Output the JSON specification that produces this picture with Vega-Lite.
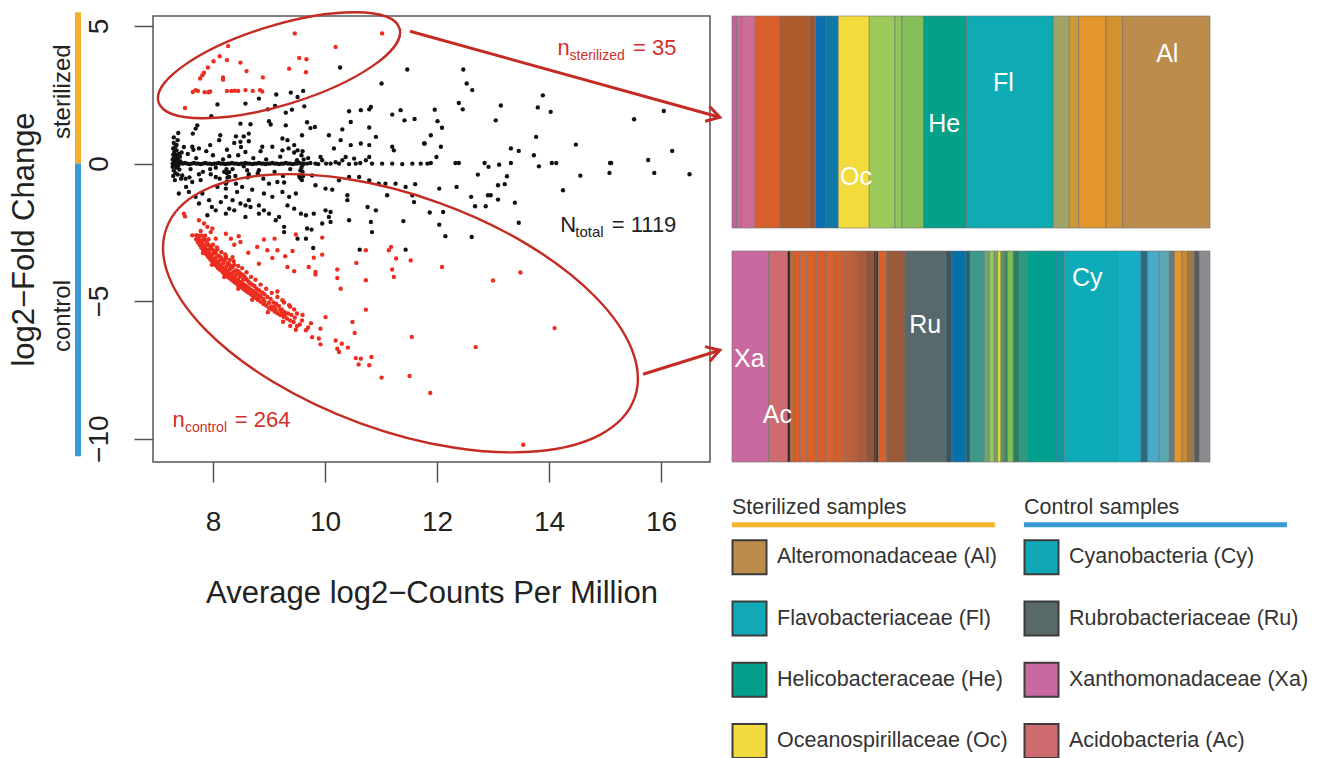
{
"$schema": "https://vega.github.io/schema/vega-lite/v6.json",
"background": "white",
"padding": {"left": 7, "top": 6, "right": 0, "bottom": 0},
"config": {"view": {"stroke": null}, "font": "Liberation Sans"},
"datasets": {
"blk": [
{"x":7.28,"y":0.0},{"x":7.28,"y":0.15},{"x":7.28,"y":-0.12},{"x":7.29,"y":0.32},{"x":7.29,"y":0.55},{"x":7.3,"y":0.75},{"x":7.3,"y":-0.25},{"x":7.31,"y":0.05},{"x":7.31,"y":0.42},{"x":7.32,"y":-0.05},{"x":7.32,"y":0.22},{"x":7.33,"y":0.62},{"x":7.33,"y":-0.35},{"x":7.34,"y":0.1},{"x":7.34,"y":0.3},{"x":7.35,"y":-0.15},{"x":7.35,"y":0.48},{"x":7.36,"y":0.02},{"x":7.36,"y":0.18},{"x":7.37,"y":-0.4},{"x":7.37,"y":0.85},{"x":7.38,"y":0.12},{"x":7.38,"y":-0.08},{"x":7.39,"y":0.35},{"x":7.4,"y":0.0},{"x":7.4,"y":-0.22},{"x":7.41,"y":0.25},{"x":7.42,"y":0.08},{"x":7.43,"y":-0.55},{"x":7.44,"y":0.4},{"x":7.3,"y":0.95},{"x":7.29,"y":-0.45},{"x":7.32,"y":-0.6},{"x":7.35,"y":0.68},{"x":7.31,"y":0.2},
{"x":7.46,"y":0},{"x":7.5,"y":0.02},{"x":7.54,"y":0},{"x":7.58,"y":-0.02},{"x":7.62,"y":0},{"x":7.66,"y":0.02},{"x":7.7,"y":0},{"x":7.74,"y":0},{"x":7.78,"y":-0.02},{"x":7.82,"y":0},{"x":7.86,"y":0.02},{"x":7.9,"y":0},{"x":7.94,"y":0},{"x":7.98,"y":-0.02},{"x":8.02,"y":0},{"x":8.06,"y":0},{"x":8.1,"y":0.02},{"x":8.14,"y":0},{"x":8.18,"y":0},{"x":8.22,"y":-0.02},{"x":8.26,"y":0},{"x":8.3,"y":0},{"x":8.34,"y":0.02},{"x":8.38,"y":0},{"x":8.42,"y":0},{"x":8.46,"y":-0.02},{"x":8.5,"y":0},{"x":8.54,"y":0},{"x":8.58,"y":0.02},{"x":8.62,"y":0},{"x":8.66,"y":0},{"x":8.7,"y":-0.02},{"x":8.74,"y":0},{"x":8.78,"y":0},{"x":8.82,"y":0.02},{"x":8.86,"y":0},{"x":8.9,"y":0},{"x":8.94,"y":-0.02},{"x":8.98,"y":0},{"x":9.02,"y":0},{"x":9.06,"y":0.02},{"x":9.1,"y":0},{"x":9.14,"y":0},{"x":9.18,"y":-0.02},{"x":9.22,"y":0},{"x":9.26,"y":0},{"x":9.3,"y":0.02},{"x":9.34,"y":0},{"x":9.38,"y":0},{"x":9.42,"y":-0.02},{"x":9.46,"y":0},{"x":9.5,"y":0},{"x":9.54,"y":0.02},{"x":9.58,"y":0},{"x":9.62,"y":0},
{"x":9.68,"y":0},{"x":9.74,"y":0.02},{"x":9.83,"y":0},{"x":9.88,"y":-0.02},{"x":9.95,"y":0.12},{"x":10.02,"y":0},{"x":10.1,"y":0},{"x":10.19,"y":0.05},{"x":10.25,"y":0},{"x":10.31,"y":0.12},{"x":10.43,"y":-0.02},{"x":10.55,"y":0},{"x":10.63,"y":0.02},{"x":10.73,"y":0.12},{"x":10.84,"y":0},{"x":11.02,"y":0},{"x":11.2,"y":0},{"x":11.38,"y":-0.02},{"x":11.56,"y":0},{"x":11.71,"y":0},{"x":11.83,"y":0},{"x":11.89,"y":0.02},{"x":12.33,"y":0.02},{"x":12.39,"y":0.02},{"x":12.85,"y":0.02},{"x":13.32,"y":0.02},{"x":14.05,"y":0.02},{"x":14.13,"y":0.02},{"x":15.09,"y":0.02},{"x":15.11,"y":0.02},
{"x":10.27,"y":3.49},{"x":11.47,"y":3.42},{"x":11.01,"y":2.91},{"x":9.61,"y":2.64},{"x":9.51,"y":2.42},{"x":9.39,"y":2.58},{"x":9.13,"y":2.51},{"x":8.82,"y":2.36},{"x":8.58,"y":2.18},{"x":8.08,"y":2.15},{"x":9.11,"y":2.09},{"x":9.63,"y":2.08},{"x":8.98,"y":1.97},{"x":9.41,"y":1.96},{"x":9.3,"y":1.85},{"x":10.43,"y":1.9},{"x":10.64,"y":1.94},{"x":10.79,"y":1.97},{"x":10.82,"y":2.06},{"x":11.35,"y":1.94},{"x":11.2,"y":1.78},{"x":11.42,"y":1.57},{"x":11.6,"y":1.62},{"x":10.46,"y":1.51},{"x":10.31,"y":1.24},{"x":10.79,"y":1.31},{"x":7.97,"y":1.72},{"x":8.49,"y":1.45},{"x":8.67,"y":1.43},{"x":9.0,"y":1.54},{"x":9.03,"y":1.42},{"x":9.3,"y":1.39},{"x":9.68,"y":1.5},{"x":9.74,"y":1.29},{"x":9.82,"y":1.33},{"x":7.72,"y":1.39},{"x":7.69,"y":1.27},{"x":7.38,"y":1.11},{"x":7.64,"y":1.09},{"x":8.13,"y":1.03},{"x":8.41,"y":0.99},{"x":8.55,"y":0.99},{"x":8.64,"y":1.09},{"x":9.24,"y":0.91},{"x":9.33,"y":0.85},{"x":9.59,"y":1.03},{"x":10.07,"y":1.03},{"x":10.28,"y":0.85},{"x":10.91,"y":0.97},{"x":10.64,"y":0.73},{"x":10.46,"y":0.67},{"x":10.79,"y":0.67},{"x":11.2,"y":0.61},{"x":11.77,"y":0.73},{"x":10.16,"y":0.55},{"x":7.95,"y":0.67},{"x":8.11,"y":0.85},{"x":8.38,"y":0.75},{"x":8.49,"y":0.79},{"x":8.64,"y":0.81},{"x":7.63,"y":0.61},{"x":7.75,"y":0.55},{"x":8.88,"y":0.61},{"x":9.06,"y":0.61},{"x":9.45,"y":0.67},{"x":9.51,"y":0.48},{"x":9.24,"y":0.48},{"x":8.58,"y":0.42},{"x":8.29,"y":0.27},{"x":9.92,"y":0.24},{"x":10.37,"y":0.24},{"x":10.52,"y":0.18},{"x":10.79,"y":0.24},{"x":11.23,"y":0.48},
{"x":12.47,"y":3.42},{"x":12.53,"y":2.91},{"x":12.63,"y":2.67},{"x":12.39,"y":2.2},{"x":12.46,"y":1.97},{"x":11.96,"y":1.96},{"x":12.01,"y":1.54},{"x":12.09,"y":1.3},{"x":11.89,"y":1.03},{"x":11.78,"y":0.73},{"x":12.07,"y":0.61},{"x":11.99,"y":0.24},{"x":13.14,"y":2.11},{"x":13.05,"y":1.57},{"x":13.89,"y":2.48},{"x":13.8,"y":2.04},{"x":14.03,"y":1.88},{"x":13.77,"y":0.97},{"x":13.32,"y":0.55},{"x":13.46,"y":0.46},{"x":13.73,"y":0.3},{"x":14.48,"y":0.69},{"x":15.52,"y":1.61},{"x":16.05,"y":1.91},{"x":15.77,"y":0.13},{"x":16.2,"y":0.46},
{"x":12.92,"y":-0.12},{"x":13.11,"y":-0.04},{"x":13.82,"y":-0.1},{"x":12.73,"y":-0.4},{"x":13.25,"y":-0.46},{"x":13.21,"y":-0.75},{"x":13.09,"y":-0.79},{"x":12.35,"y":-0.85},{"x":12.04,"y":-0.91},{"x":12.91,"y":-1.15},{"x":12.96,"y":-1.15},{"x":12.61,"y":-1.21},{"x":13.09,"y":-1.31},{"x":13.39,"y":-1.42},{"x":12.68,"y":-1.55},{"x":12.87,"y":-1.55},{"x":11.87,"y":-1.78},{"x":12.11,"y":-1.76},{"x":12.04,"y":-2.22},{"x":13.46,"y":-2.15},{"x":12.15,"y":-2.64},{"x":12.62,"y":-2.67},{"x":14.25,"y":-0.97},{"x":14.56,"y":-0.44},{"x":15.08,"y":-0.34},{"x":15.88,"y":-0.34},{"x":16.51,"y":-0.39},
{"x":7.45,"y":-0.43},{"x":7.51,"y":-0.55},{"x":7.63,"y":-0.67},{"x":7.75,"y":-0.39},{"x":7.96,"y":-0.39},{"x":8.05,"y":-0.49},{"x":8.29,"y":-0.31},{"x":8.29,"y":-0.49},{"x":8.61,"y":-0.24},{"x":8.64,"y":-0.39},{"x":8.82,"y":-0.24},{"x":9.0,"y":-0.73},{"x":9.15,"y":-0.67},{"x":9.27,"y":-0.69},{"x":9.54,"y":-0.43},{"x":9.57,"y":-0.55},{"x":9.77,"y":-0.43},{"x":9.83,"y":-0.79},{"x":10.01,"y":-0.91},{"x":10.13,"y":-0.95},{"x":10.25,"y":-0.61},{"x":10.43,"y":-0.49},{"x":10.61,"y":-0.49},{"x":10.79,"y":-0.61},{"x":10.96,"y":-0.73},{"x":11.08,"y":-0.73},{"x":11.26,"y":-0.73},{"x":11.44,"y":-0.85},{"x":11.61,"y":-0.75},{"x":11.11,"y":-1.15},{"x":11.56,"y":-1.15},{"x":10.4,"y":-1.15},{"x":10.4,"y":-1.33},{"x":10.76,"y":-1.58},{"x":10.91,"y":-1.7},{"x":7.39,"y":-1.09},{"x":7.57,"y":-1.03},{"x":7.69,"y":-1.21},{"x":7.75,"y":-1.45},{"x":7.9,"y":-1.88},{"x":8.08,"y":-0.85},{"x":8.23,"y":-0.91},{"x":8.14,"y":-1.4},{"x":8.23,"y":-1.21},{"x":8.35,"y":-1.33},{"x":8.43,"y":-1.03},{"x":8.38,"y":-1.7},{"x":8.29,"y":-1.64},{"x":8.23,"y":-1.82},{"x":8.49,"y":-1.45},{"x":8.58,"y":-1.52},{"x":8.64,"y":-1.33},{"x":8.67,"y":-1.58},{"x":8.58,"y":-1.94},{"x":8.82,"y":-1.52},{"x":8.82,"y":-1.82},{"x":8.91,"y":-1.7},{"x":9.0,"y":-1.82},{"x":9.12,"y":-2.06},{"x":9.27,"y":-2.3},{"x":9.27,"y":-2.49},{"x":9.18,"y":-1.94},{"x":9.33,"y":-1.52},{"x":9.48,"y":-1.09},{"x":9.45,"y":-1.64},{"x":9.57,"y":-1.82},{"x":9.68,"y":-2.36},{"x":9.76,"y":-2.4},{"x":9.66,"y":-1.88},{"x":9.8,"y":-1.82},{"x":10.01,"y":-1.7},{"x":10.1,"y":-1.76},{"x":10.07,"y":-1.94},{"x":9.95,"y":-2.18},{"x":10.1,"y":-2.12},{"x":10.43,"y":-2.06},{"x":10.82,"y":-2.12},{"x":10.84,"y":-2.49},{"x":9.51,"y":-2.73},{"x":9.66,"y":-2.73},{"x":9.79,"y":-3.07},{"x":10.62,"y":-3.13},{"x":11.44,"y":-3.13},{"x":11.4,"y":-2.09},{"x":11.59,"y":-1.4},{"x":7.98,"y":-1.58},{"x":8.05,"y":-1.7},{"x":7.93,"y":-1.33},{"x":7.81,"y":-1.09},{"x":8.23,"y":-0.73},{"x":8.41,"y":-0.73},{"x":8.52,"y":-0.85},{"x":8.7,"y":-0.95},{"x":8.91,"y":-1.09},{"x":9.06,"y":-1.21},{"x":9.24,"y":-1.03},{"x":9.36,"y":-1.21},
{"x":7.55,"y":0.35},{"x":7.6,"y":-0.2},{"x":7.7,"y":0.2},{"x":7.82,"y":-0.3},{"x":7.88,"y":0.45},{"x":8.0,"y":0.3},{"x":8.05,"y":-0.15},{"x":8.18,"y":0.15},{"x":8.35,"y":-0.2},{"x":8.45,"y":0.3},{"x":8.55,"y":-0.1},{"x":8.72,"y":0.2},{"x":8.8,"y":-0.35},{"x":8.95,"y":0.15},{"x":9.1,"y":-0.3},{"x":9.2,"y":0.25},{"x":9.38,"y":-0.2},{"x":9.5,"y":0.12},{"x":9.6,"y":-0.3},{"x":9.7,"y":0.2},{"x":7.48,"y":0.6},{"x":7.52,"y":-0.85},{"x":7.65,"y":0.5},{"x":7.78,"y":-0.6},{"x":8.12,"y":-0.55},{"x":8.25,"y":0.5},{"x":8.4,"y":-0.45},{"x":8.62,"y":-0.5},{"x":8.9,"y":-0.55},{"x":9.25,"y":-0.45},{"x":9.45,"y":0.4},{"x":9.55,"y":-0.5},{"x":9.58,"y":-0.15},{"x":9.6,"y":0.45},{"x":9.35,"y":0.55},{"x":8.85,"y":0.45},{"x":8.5,"y":0.6},{"x":8.2,"y":-0.3},{"x":7.95,"y":-0.2},{"x":7.58,"y":-0.5},{"x":9.58,"y":0.3},{"x":9.6,"y":-0.05},{"x":9.62,"y":0.15},{"x":9.56,"y":-0.25},{"x":9.61,"y":-0.45},{"x":9.59,"y":-0.6},{"x":8.24,"y":-0.2},{"x":8.25,"y":-0.35},{"x":8.26,"y":-0.5},{"x":8.25,"y":-0.65}
],
"red": [
{"x":9.46,"y":4.73},{"x":11.02,"y":4.73},{"x":8.27,"y":4.27},{"x":10.19,"y":4.24},{"x":8.12,"y":3.9},{"x":8.01,"y":3.72},{"x":8.25,"y":3.76},{"x":8.49,"y":3.67},{"x":9.54,"y":3.84},{"x":9.67,"y":3.79},{"x":7.91,"y":3.49},{"x":7.84,"y":3.3},{"x":7.81,"y":3.21},{"x":8.6,"y":3.36},{"x":9.36,"y":3.45},{"x":9.66,"y":3.32},{"x":7.77,"y":3.09},{"x":8.18,"y":3.13},{"x":8.18,"y":3.05},{"x":8.89,"y":3.13},{"x":7.64,"y":2.6},{"x":7.69,"y":2.67},{"x":7.73,"y":2.64},{"x":7.85,"y":2.59},{"x":7.92,"y":2.59},{"x":8.25,"y":2.64},{"x":8.33,"y":2.64},{"x":8.39,"y":2.65},{"x":8.58,"y":2.67},{"x":8.71,"y":2.64},{"x":8.84,"y":2.67},{"x":8.88,"y":2.62},{"x":7.5,"y":2.02},{"x":7.95,"y":2.62},{"x":8.45,"y":2.64},
{"x":7.7,"y":-2.75},{"x":7.7,"y":-2.6},{"x":7.73,"y":-2.85},{"x":7.73,"y":-2.68},{"x":7.76,"y":-2.95},{"x":7.76,"y":-2.78},{"x":7.76,"y":-2.62},{"x":7.79,"y":-3.05},{"x":7.79,"y":-2.88},{"x":7.82,"y":-3.12},{"x":7.82,"y":-2.95},{"x":7.82,"y":-2.8},{"x":7.85,"y":-3.2},{"x":7.85,"y":-3.05},{"x":7.88,"y":-3.3},{"x":7.88,"y":-3.12},{"x":7.88,"y":-2.95},{"x":7.91,"y":-3.38},{"x":7.91,"y":-3.2},{"x":7.94,"y":-3.45},{"x":7.94,"y":-3.28},{"x":7.94,"y":-3.12},{"x":7.97,"y":-3.52},{"x":7.97,"y":-3.35},{"x":8.0,"y":-3.6},{"x":8.0,"y":-3.45},{"x":8.0,"y":-3.28},{"x":8.03,"y":-3.66},{"x":8.03,"y":-3.5},{"x":8.06,"y":-3.72},{"x":8.06,"y":-3.56},{"x":8.06,"y":-3.4},{"x":8.09,"y":-3.8},{"x":8.09,"y":-3.62},{"x":8.12,"y":-3.85},{"x":8.12,"y":-3.68},{"x":8.12,"y":-3.52},{"x":8.15,"y":-3.9},{"x":8.15,"y":-3.75},{"x":8.18,"y":-3.96},{"x":8.18,"y":-3.8},{"x":8.18,"y":-3.63},{"x":8.21,"y":-4.02},{"x":8.21,"y":-3.85},{"x":8.24,"y":-4.06},{"x":8.24,"y":-3.9},{"x":8.24,"y":-3.74},{"x":8.27,"y":-4.12},{"x":8.27,"y":-3.95},{"x":8.3,"y":-4.17},{"x":8.3,"y":-4.0},{"x":8.3,"y":-3.84},{"x":8.33,"y":-4.22},{"x":8.33,"y":-4.05},{"x":8.36,"y":-4.27},{"x":8.36,"y":-4.1},{"x":8.36,"y":-3.95},{"x":8.39,"y":-4.32},{"x":8.39,"y":-4.15},{"x":8.42,"y":-4.36},{"x":8.42,"y":-4.2},{"x":8.42,"y":-4.03},{"x":8.45,"y":-4.42},{"x":8.45,"y":-4.25},{"x":8.48,"y":-4.46},{"x":8.48,"y":-4.3},{"x":8.48,"y":-4.12},{"x":8.51,"y":-4.5},{"x":8.51,"y":-4.33},{"x":8.54,"y":-4.55},{"x":8.54,"y":-4.38},{"x":8.54,"y":-4.22},{"x":8.57,"y":-4.6},{"x":8.57,"y":-4.42},{"x":8.6,"y":-4.65},{"x":8.6,"y":-4.46},{"x":8.64,"y":-4.7},{"x":8.64,"y":-4.52},{"x":8.68,"y":-4.76},{"x":8.68,"y":-4.58},{"x":8.72,"y":-4.82},{"x":8.72,"y":-4.64},{"x":8.76,"y":-4.88},{"x":8.76,"y":-4.7},{"x":8.8,"y":-4.95},{"x":8.8,"y":-4.76},{"x":8.85,"y":-5.02},{"x":8.85,"y":-4.84},{"x":8.9,"y":-5.1},{"x":8.9,"y":-4.92},{"x":8.95,"y":-5.16},{"x":9.0,"y":-5.25},{"x":9.0,"y":-5.06},{"x":9.05,"y":-5.3},{"x":9.1,"y":-5.38},{"x":9.1,"y":-5.2},{"x":9.15,"y":-5.44},{"x":9.2,"y":-5.5},{"x":9.2,"y":-5.32},{"x":9.26,"y":-5.57},{"x":9.32,"y":-5.63},{"x":9.38,"y":-5.7},{"x":9.44,"y":-5.76},
{"x":7.8,"y":-2.62},{"x":7.84,"y":-2.72},{"x":7.87,"y":-2.8},{"x":7.9,"y":-2.9},{"x":7.93,"y":-2.98},{"x":7.96,"y":-3.02},{"x":7.99,"y":-3.12},{"x":8.02,"y":-3.18},{"x":8.05,"y":-3.25},{"x":8.08,"y":-3.12},{"x":8.1,"y":-3.35},{"x":8.14,"y":-3.4},{"x":8.17,"y":-3.48},{"x":8.2,"y":-3.52},{"x":8.23,"y":-3.45},{"x":8.26,"y":-3.62},{"x":8.29,"y":-3.66},{"x":8.32,"y":-3.72},{"x":8.35,"y":-3.78},{"x":8.38,"y":-3.68},{"x":8.41,"y":-3.88},{"x":8.44,"y":-3.9},{"x":8.47,"y":-3.96},{"x":8.5,"y":-4.02},{"x":8.53,"y":-4.05},{"x":8.56,"y":-4.1},{"x":8.6,"y":-4.2},{"x":8.63,"y":-4.28},{"x":8.66,"y":-4.35},{"x":8.7,"y":-4.4},{"x":8.74,"y":-4.45},{"x":8.78,"y":-4.55},{"x":8.82,"y":-4.6},{"x":8.87,"y":-4.68},{"x":8.92,"y":-4.75},{"x":8.97,"y":-4.85},{"x":9.03,"y":-4.92},{"x":9.08,"y":-5.05},{"x":9.13,"y":-5.1},{"x":9.18,"y":-5.18},{"x":9.23,"y":-5.3},{"x":9.28,"y":-5.4},{"x":9.34,"y":-5.45},{"x":9.4,"y":-5.5},
{"x":7.95,"y":-3.4},{"x":8.04,"y":-3.55},{"x":8.14,"y":-3.78},{"x":8.22,"y":-3.93},{"x":8.32,"y":-4.1},{"x":8.4,"y":-4.25},{"x":8.5,"y":-4.4},{"x":8.58,"y":-4.52},{"x":8.66,"y":-4.66},{"x":8.74,"y":-4.78},{"x":8.82,"y":-4.88},{"x":8.92,"y":-5.02},{"x":9.04,"y":-5.2},{"x":9.12,"y":-5.3},{"x":9.22,"y":-5.45},{"x":9.28,"y":-5.5},
{"x":7.78,"y":-2.45},{"x":7.86,"y":-2.62},{"x":7.92,"y":-2.75},{"x":8.0,"y":-2.95},{"x":8.07,"y":-3.05},{"x":8.15,"y":-3.22},{"x":8.22,"y":-3.3},{"x":8.3,"y":-3.5},{"x":8.37,"y":-3.55},{"x":8.45,"y":-3.72},{"x":8.52,"y":-3.8},{"x":8.6,"y":-3.95},{"x":8.68,"y":-4.12},{"x":8.76,"y":-4.22},{"x":8.85,"y":-4.4},{"x":8.95,"y":-4.55},{"x":9.05,"y":-4.7},{"x":9.15,"y":-4.65},{"x":9.27,"y":-5.05},{"x":9.38,"y":-5.2},{"x":9.46,"y":-5.6},{"x":9.5,"y":-5.9},{"x":9.38,"y":-5.9},{"x":9.25,"y":-5.75},{"x":8.98,"y":-5.4},{"x":8.7,"y":-4.95},{"x":8.45,"y":-4.55},{"x":8.2,"y":-4.12},{"x":7.98,"y":-3.68},{"x":7.82,"y":-3.25},
{"x":7.48,"y":-1.82},{"x":7.5,"y":-1.92},{"x":7.75,"y":-2.06},{"x":7.84,"y":-2.18},{"x":7.63,"y":-2.61},{"x":7.9,"y":-2.3},{"x":7.99,"y":-2.36},{"x":7.96,"y":-2.49},{"x":8.05,"y":-2.73},{"x":8.23,"y":-2.55},{"x":8.32,"y":-2.73},{"x":8.38,"y":-2.95},{"x":8.46,"y":-2.64},{"x":8.49,"y":-2.85},{"x":8.63,"y":-3.24},{"x":8.35,"y":-3.4},{"x":8.23,"y":-3.37},{"x":8.79,"y":-3.03},{"x":8.91,"y":-2.76},{"x":8.97,"y":-3.15},{"x":9.1,"y":-2.73},{"x":9.15,"y":-3.15},{"x":9.06,"y":-3.43},{"x":8.82,"y":-3.64},{"x":9.29,"y":-3.37},{"x":9.42,"y":-3.18},{"x":9.48,"y":-2.58},{"x":9.33,"y":-3.76},{"x":9.45,"y":-3.91},{"x":9.71,"y":-3.76},{"x":9.8,"y":-3.42},{"x":9.95,"y":-2.69},{"x":9.95,"y":-3.31},{"x":9.83,"y":-3.94},{"x":9.83,"y":-4.03},{"x":10.22,"y":-3.85},{"x":10.22,"y":-4.16},{"x":10.28,"y":-4.55},{"x":10.56,"y":-3.61},{"x":10.73,"y":-3.15},{"x":10.73,"y":-4.24},{"x":11.14,"y":-3.15},{"x":11.18,"y":-3.03},{"x":11.27,"y":-3.45},{"x":11.53,"y":-3.52},{"x":11.2,"y":-3.85},{"x":11.23,"y":-4.12},{"x":10.73,"y":-5.31},
{"x":9.45,"y":-5.3},{"x":9.59,"y":-5.7},{"x":9.48,"y":-6.04},{"x":9.66,"y":-6.06},{"x":9.7,"y":-5.96},{"x":9.77,"y":-6.31},{"x":9.92,"y":-6.0},{"x":9.89,"y":-6.36},{"x":9.92,"y":-6.57},{"x":10.01,"y":-5.58},{"x":10.19,"y":-6.43},{"x":10.22,"y":-6.73},{"x":10.25,"y":-6.85},{"x":10.3,"y":-6.55},{"x":10.41,"y":-6.69},{"x":10.49,"y":-5.76},{"x":10.53,"y":-6.16},{"x":10.55,"y":-7.07},{"x":10.64,"y":-7.09},{"x":10.6,"y":-7.3},{"x":10.79,"y":-7.33},{"x":10.83,"y":-7.03},{"x":11.01,"y":-7.78},{"x":11.51,"y":-7.72},{"x":11.55,"y":-6.3},{"x":11.88,"y":-8.34},{"x":12.09,"y":-3.76},{"x":13.0,"y":-4.25},{"x":13.49,"y":-3.96},{"x":14.1,"y":-5.98},{"x":12.69,"y":-6.67},{"x":13.54,"y":-10.22},
{"x":9.36,"y":-5.15},{"x":9.24,"y":-4.97},{"x":9.15,"y":-4.85},{"x":8.88,"y":-4.7},{"x":9.5,"y":-5.45},{"x":9.6,"y":-5.5},{"x":9.55,"y":-5.85},{"x":9.75,"y":-5.8}
],
"ann": [
{"t":"n","x":14.15,"y":3.94,"k":"rm"},{"t":"sterilized","x":14.366,"y":3.78,"k":"rs"},{"t":"= 35","x":15.5,"y":3.94,"k":"rm"},
{"t":"n","x":7.277,"y":-9.59,"k":"rm"},{"t":"control","x":7.5,"y":-9.76,"k":"rs"},{"t":"= 264","x":8.39,"y":-9.59,"k":"rm"},
{"t":"N","x":14.2,"y":-2.49,"k":"bm"},{"t":"total","x":14.47,"y":-2.67,"k":"bs"},{"t":"= 1119","x":15.12,"y":-2.49,"k":"bm"}
],
"seg": [
{"bar":"s","i":1,"id":"s01","w":4.6},{"bar":"s","i":2,"id":"s02","w":5.0},{"bar":"s","i":3,"id":"s03","w":13.7},{"bar":"s","i":4,"id":"s04","w":24.7},{"bar":"s","i":5,"id":"s05","w":29.3},{"bar":"s","i":6,"id":"s06","w":6.0},{"bar":"s","i":7,"id":"s07","w":10.7},{"bar":"s","i":8,"id":"s08","w":12.3},{"bar":"s","i":9,"id":"s09","w":31.0},{"bar":"s","i":10,"id":"s10","w":25.7},{"bar":"s","i":11,"id":"s11","w":7.0},{"bar":"s","i":12,"id":"s12","w":21.6},{"bar":"s","i":13,"id":"s13","w":43.0},{"bar":"s","i":14,"id":"s14","w":86.7},{"bar":"s","i":15,"id":"s15","w":16.0},{"bar":"s","i":16,"id":"s16","w":9.3},{"bar":"s","i":17,"id":"s17","w":27.4},{"bar":"s","i":18,"id":"s18","w":16.6},{"bar":"s","i":19,"id":"s19","w":87.4},
{"bar":"c","i":1,"id":"c01","w":36.6},{"bar":"c","i":2,"id":"c02","w":19.0},{"bar":"c","i":3,"id":"c03","w":2.7},{"bar":"c","i":4,"id":"c04","w":5.0},{"bar":"c","i":5,"id":"c05","w":5.0},{"bar":"c","i":6,"id":"c06","w":6.0},{"bar":"c","i":7,"id":"c07","w":10.0},{"bar":"c","i":8,"id":"c08","w":10.0},{"bar":"c","i":9,"id":"c09","w":9.0},{"bar":"c","i":10,"id":"c10","w":9.0},{"bar":"c","i":11,"id":"c11","w":7.0},{"bar":"c","i":12,"id":"c12","w":6.0},{"bar":"c","i":13,"id":"c13","w":8.0},{"bar":"c","i":14,"id":"c14","w":8.0},{"bar":"c","i":15,"id":"c15","w":2.7},{"bar":"c","i":16,"id":"c16","w":2.3},{"bar":"c","i":17,"id":"c17","w":8.3},{"bar":"c","i":18,"id":"c18","w":18.4},{"bar":"c","i":19,"id":"c19","w":41.0},{"bar":"c","i":20,"id":"c20","w":6.0},{"bar":"c","i":21,"id":"c21","w":14.0},{"bar":"c","i":22,"id":"c22","w":4.0},{"bar":"c","i":23,"id":"c23","w":14.3},{"bar":"c","i":24,"id":"c24","w":5.0},{"bar":"c","i":25,"id":"c25","w":5.0},{"bar":"c","i":26,"id":"c26","w":3.3},{"bar":"c","i":27,"id":"c27","w":3.4},{"bar":"c","i":28,"id":"c28","w":3.3},{"bar":"c","i":29,"id":"c29","w":3.3},{"bar":"c","i":30,"id":"c30","w":5.7},{"bar":"c","i":31,"id":"c31","w":6.0},{"bar":"c","i":32,"id":"c32","w":8.3},{"bar":"c","i":33,"id":"c33","w":28.4},{"bar":"c","i":34,"id":"c34","w":8.3},{"bar":"c","i":35,"id":"c35","w":53.3},{"bar":"c","i":36,"id":"c36","w":23.4},{"bar":"c","i":37,"id":"c37","w":6.6},{"bar":"c","i":38,"id":"c38","w":11.7},{"bar":"c","i":39,"id":"c39","w":10.0},{"bar":"c","i":40,"id":"c40","w":5.0},{"bar":"c","i":41,"id":"c41","w":7.7},{"bar":"c","i":42,"id":"c42","w":5.6},{"bar":"c","i":43,"id":"c43","w":6.7},{"bar":"c","i":44,"id":"c44","w":5.0},{"bar":"c","i":45,"id":"c45","w":10.7}
],
"legend": [
{"col":"Sterilized samples","row":1,"key":"Al","name":"Alteromonadaceae (Al)"},
{"col":"Sterilized samples","row":2,"key":"Fl","name":"Flavobacteriaceae (Fl)"},
{"col":"Sterilized samples","row":3,"key":"He","name":"Helicobacteraceae (He)"},
{"col":"Sterilized samples","row":4,"key":"Oc","name":"Oceanospirillaceae (Oc)"},
{"col":"Control samples","row":1,"key":"Cy","name":"Cyanobacteria (Cy)"},
{"col":"Control samples","row":2,"key":"Ru","name":"Rubrobacteriaceae (Ru)"},
{"col":"Control samples","row":3,"key":"Xa","name":"Xanthomonadaceae (Xa)"},
{"col":"Control samples","row":4,"key":"Ac","name":"Acidobacteria (Ac)"}
]
},
"bounds": "flush",
"spacing": 22,
"resolve": {"scale": {"color": "independent"}},
"hconcat": [
{
"width": 557, "height": 446,
"view": {"stroke": "#555", "strokeWidth": 1.5},
"encoding": {
"x": {"field": "x", "type": "quantitative", "scale": {"domain": [6.929, 16.875], "nice": false, "zero": false},
"axis": {"values": [8, 10, 12, 14, 16], "domain": false, "grid": false, "tickSize": 20, "tickColor": "#555", "tickWidth": 1.5, "labelFontSize": 28, "labelColor": "#222", "labelPadding": 26, "labelFlush": false, "labelOverlap": false, "title": "Average log2−Counts Per Million", "titleFontSize": 31, "titleFontWeight": "normal", "titleColor": "#222", "titlePadding": 42}},
"y": {"field": "y", "type": "quantitative", "scale": {"domain": [-10.847, 5.363], "nice": false, "zero": false},
"axis": {"values": [-10, -5, 0, 5], "domain": false, "grid": false, "tickSize": 19, "tickColor": "#555", "tickWidth": 1.5, "labelFontSize": 28, "labelColor": "#222", "labelPadding": 21, "labelAngle": 270, "labelAlign": "center", "labelBaseline": "bottom", "labelFlush": false, "labelOverlap": false, "title": "log2−Fold Change", "titleFontSize": 31, "titleFontWeight": "normal", "titleColor": "#222", "titlePadding": 45}}
},
"layer": [
{"data": {"name": "blk"}, "mark": {"type": "circle", "size": 19, "color": "#111", "opacity": 1}},
{"data": {"name": "red"}, "mark": {"type": "circle", "size": 19, "color": "#ec2d1f", "opacity": 1}},
{"data": {"values": [{"x": 9.179, "y": 3.573}]}, "mark": {"type": "point", "shape": "M -1 0 C -1 -0.1745 -0.5523 -0.316 0 -0.316 C 0.5523 -0.316 1 -0.1745 1 0 C 1 0.1745 0.5523 0.316 0 0.316 C -0.5523 0.316 -1 0.1745 -1 0 Z", "size": 63504, "angle": 343, "filled": false, "color": "#c42b23", "strokeWidth": 2.4, "opacity": 1}},
{"data": {"values": [{"x": 11.348, "y": -5.442}]}, "mark": {"type": "point", "shape": "M -1 0 C -1 -0.2596 -0.5523 -0.47 0 -0.47 C 0.5523 -0.47 1 -0.2596 1 0 C 1 0.2596 0.5523 0.47 0 0.47 C -0.5523 0.47 -1 0.2596 -1 0 Z", "size": 248004, "angle": 20, "filled": false, "color": "#c42b23", "strokeWidth": 2.4, "opacity": 1}},
{"data": {"values": [{"x": 11.518, "y": 4.809, "x2": 17.05, "y2": 1.683}, {"x": 15.679, "y": -7.659, "x2": 17.05, "y2": -6.785}]}, "mark": {"type": "rule", "color": "#c42b23", "strokeWidth": 3}, "encoding": {"x2": {"field": "x2"}, "y2": {"field": "y2"}}},
{"data": {"values": [{"x": 17.05, "y": 1.683}]}, "mark": {"type": "point", "shape": "M -1 -0.6 L 0 0 L -1 0.6", "size": 676, "angle": 15.5, "filled": false, "color": "#c42b23", "strokeWidth": 3, "opacity": 1}},
{"data": {"values": [{"x": 17.05, "y": -6.785}]}, "mark": {"type": "point", "shape": "M -1 -0.6 L 0 0 L -1 0.6", "size": 676, "angle": 342.7, "filled": false, "color": "#c42b23", "strokeWidth": 3, "opacity": 1}},
{"data": {"values": [{"x": 5.59, "y": 5.5, "y2": 0}]}, "mark": {"type": "rule", "color": "#f5b12e", "strokeWidth": 6}, "encoding": {"y2": {"field": "y2"}}},
{"data": {"values": [{"x": 5.59, "y": 0, "y2": -10.64}]}, "mark": {"type": "rule", "color": "#3a9ad6", "strokeWidth": 6}, "encoding": {"y2": {"field": "y2"}}},
{"data": {"values": [{"x": 5.32, "y": 2.61, "t": "sterilized"}, {"x": 5.32, "y": -5.54, "t": "control"}]}, "mark": {"type": "text", "angle": 270, "fontSize": 24, "color": "#222", "align": "center", "baseline": "middle"}, "encoding": {"text": {"field": "t"}}},
{"data": {"name": "ann"}, "transform": [{"filter": "datum.k == 'rm'"}], "mark": {"type": "text", "align": "left", "baseline": "alphabetic", "fontSize": 22, "color": "#d1312a"}, "encoding": {"text": {"field": "t"}}},
{"data": {"name": "ann"}, "transform": [{"filter": "datum.k == 'rs'"}], "mark": {"type": "text", "align": "left", "baseline": "alphabetic", "fontSize": 14, "color": "#d1312a"}, "encoding": {"text": {"field": "t"}}},
{"data": {"name": "ann"}, "transform": [{"filter": "datum.k == 'bm'"}], "mark": {"type": "text", "align": "left", "baseline": "alphabetic", "fontSize": 22, "color": "#222"}, "encoding": {"text": {"field": "t"}}},
{"data": {"name": "ann"}, "transform": [{"filter": "datum.k == 'bs'"}], "mark": {"type": "text", "align": "left", "baseline": "alphabetic", "fontSize": 15, "color": "#222"}, "encoding": {"text": {"field": "t"}}}
]
},
{
"vconcat": [
{
"width": 478, "height": 212,
"layer": [
{"data": {"name": "seg"}, "transform": [{"filter": "datum.bar == 's'"}], "mark": {"type": "bar", "stroke": "#6e6e6e", "strokeWidth": 0.6},
"encoding": {
"x": {"field": "w", "type": "quantitative", "stack": "zero", "scale": {"domain": [0, 478], "nice": false}, "axis": null},
"y": {"field": "bar", "type": "nominal", "scale": {"paddingInner": 0, "paddingOuter": 0}, "axis": null},
"order": {"field": "i", "type": "quantitative"},
"color": {"field": "id", "type": "nominal", "legend": null, "scale": {
"domain": ["s01","s02","s03","s04","s05","s06","s07","s08","s09","s10","s11","s12","s13","s14","s15","s16","s17","s18","s19"],
"range": ["#c2619b","#c8689a","#cd6c96","#d9602c","#ad5b2c","#99552f","#0b6fae","#0e78a6","#f1db3d","#9dca5c","#92c45e","#86bf59","#06a08a","#0eabb5","#a3a367","#c9993a","#e2962c","#d3912f","#bb8c4c"]}}
}},
{"data": {"values": [{"lab": "Oc", "x": 124, "y": 0.242}, {"lab": "He", "x": 212.3, "y": 0.491}, {"lab": "Fl", "x": 271.3, "y": 0.684}, {"lab": "Al", "x": 435.3, "y": 0.821}]},
"mark": {"type": "text", "color": "white", "fontSize": 25, "align": "center", "baseline": "middle"},
"encoding": {"x": {"field": "x", "type": "quantitative", "scale": {"domain": [0, 478], "nice": false}, "axis": null}, "y": {"field": "y", "type": "quantitative", "scale": {"domain": [0, 1]}, "axis": null}, "text": {"field": "lab"}}}
],
"resolve": {"scale": {"y": "independent"}}
},
{
"width": 478, "height": 211,
"layer": [
{"data": {"name": "seg"}, "transform": [{"filter": "datum.bar == 'c'"}], "mark": {"type": "bar", "stroke": "#6e6e6e", "strokeWidth": 0.6},
"encoding": {
"x": {"field": "w", "type": "quantitative", "stack": "zero", "scale": {"domain": [0, 478], "nice": false}, "axis": null},
"y": {"field": "bar", "type": "nominal", "scale": {"paddingInner": 0, "paddingOuter": 0}, "axis": null},
"order": {"field": "i", "type": "quantitative"},
"color": {"field": "id", "type": "nominal", "legend": null, "scale": {
"domain": ["c01","c02","c03","c04","c05","c06","c07","c08","c09","c10","c11","c12","c13","c14","c15","c16","c17","c18","c19","c20","c21","c22","c23","c24","c25","c26","c27","c28","c29","c30","c31","c32","c33","c34","c35","c36","c37","c38","c39","c40","c41","c42","c43","c44","c45"],
"range": ["#c86aa0","#cd6b70","#2e2422","#d4602a","#d95f2b","#dc6330","#d95f2b","#d45d2b","#da612d","#cf602f","#c65f36","#b85d3a","#a95b3c","#935539","#5a3526","#3e2a1e","#d95f2b","#9a5b3a","#57696a","#3a5560","#0670a8","#1d6272","#3d9a8a","#6aa872","#9cc260","#6fa85e","#e4da3e","#5c9a62","#3b8a62","#82c052","#2c8062","#2f9a82","#02a08f","#0b9aa2","#0dabb8","#14aec6","#2b6c80","#4aaac8","#5aa8b2","#6a7a78","#e1962e","#c98a38","#9b7a48","#5a5a5c","#8b8b90"]}}
}},
{"data": {"values": [{"lab": "Xa", "x": 17.3, "y": 0.488}, {"lab": "Ac", "x": 45.3, "y": 0.223}, {"lab": "Ru", "x": 193.3, "y": 0.649}, {"lab": "Cy", "x": 355.3, "y": 0.872}]},
"mark": {"type": "text", "color": "white", "fontSize": 25, "align": "center", "baseline": "middle"},
"encoding": {"x": {"field": "x", "type": "quantitative", "scale": {"domain": [0, 478], "nice": false}, "axis": null}, "y": {"field": "y", "type": "quantitative", "scale": {"domain": [0, 1]}, "axis": null}, "text": {"field": "lab"}}}
],
"resolve": {"scale": {"y": "independent"}}
},
{
"width": 554.8, "height": 265,
"encoding": {
"y": {"field": "row", "type": "quantitative", "scale": {"domain": [-0.1814, 4.1487], "reverse": true, "nice": false, "zero": false}, "axis": null}
},
"layer": [
{"data": {"values": [{"col": "Sterilized samples", "row": 0.47}]}, "mark": {"type": "tick", "orient": "horizontal", "size": 263, "thickness": 5, "color": "#f7b52c", "opacity": 1},
"encoding": {"x": {"field": "col", "type": "nominal", "scale": {"domain": ["Sterilized samples", "Control samples"], "paddingInner": 0.1, "paddingOuter": 0}, "axis": null}}},
{"data": {"values": [{"col": "Control samples", "row": 0.47}]}, "mark": {"type": "tick", "orient": "horizontal", "size": 263, "thickness": 5, "color": "#3a9ad6", "opacity": 1},
"encoding": {"x": {"field": "col", "type": "nominal", "scale": {"domain": ["Sterilized samples", "Control samples"], "paddingInner": 0.1, "paddingOuter": 0}, "axis": null}}},
{"data": {"values": [{"col": "Sterilized samples", "row": 0.47}, {"col": "Control samples", "row": 0.47}]}, "mark": {"type": "text", "align": "left", "baseline": "alphabetic", "dy": -11, "fontSize": 21.5, "color": "#333"},
"encoding": {"x": {"field": "col", "type": "nominal", "bandPosition": 0, "scale": {"domain": ["Sterilized samples", "Control samples"], "paddingInner": 0.1, "paddingOuter": 0}, "axis": null}, "text": {"field": "col"}}},
{"data": {"name": "legend"}, "mark": {"type": "point", "shape": "square", "size": 1156, "filled": true, "opacity": 1, "stroke": "#3c3c3c", "strokeWidth": 2},
"encoding": {"x": {"field": "col", "type": "nominal", "bandPosition": 0.0666, "scale": {"domain": ["Sterilized samples", "Control samples"], "paddingInner": 0.1, "paddingOuter": 0}, "axis": null},
"color": {"field": "key", "type": "nominal", "legend": null, "scale": {"domain": ["Al","Fl","He","Oc","Cy","Ru","Xa","Ac"], "range": ["#bb8c4c","#12a9b6","#02a08a","#f0da40","#10a7b7","#58696a","#c86aa0","#cf6a6e"]}}}},
{"data": {"name": "legend"}, "mark": {"type": "text", "align": "left", "baseline": "middle", "dx": 45, "fontSize": 21.5, "color": "#333"},
"encoding": {"x": {"field": "col", "type": "nominal", "bandPosition": 0, "scale": {"domain": ["Sterilized samples", "Control samples"], "paddingInner": 0.1, "paddingOuter": 0}, "axis": null}, "text": {"field": "name"}}}
]
}
],
"spacing": 23,
"bounds": "flush",
"resolve": {"scale": {"color": "independent"}}
}
]
}
